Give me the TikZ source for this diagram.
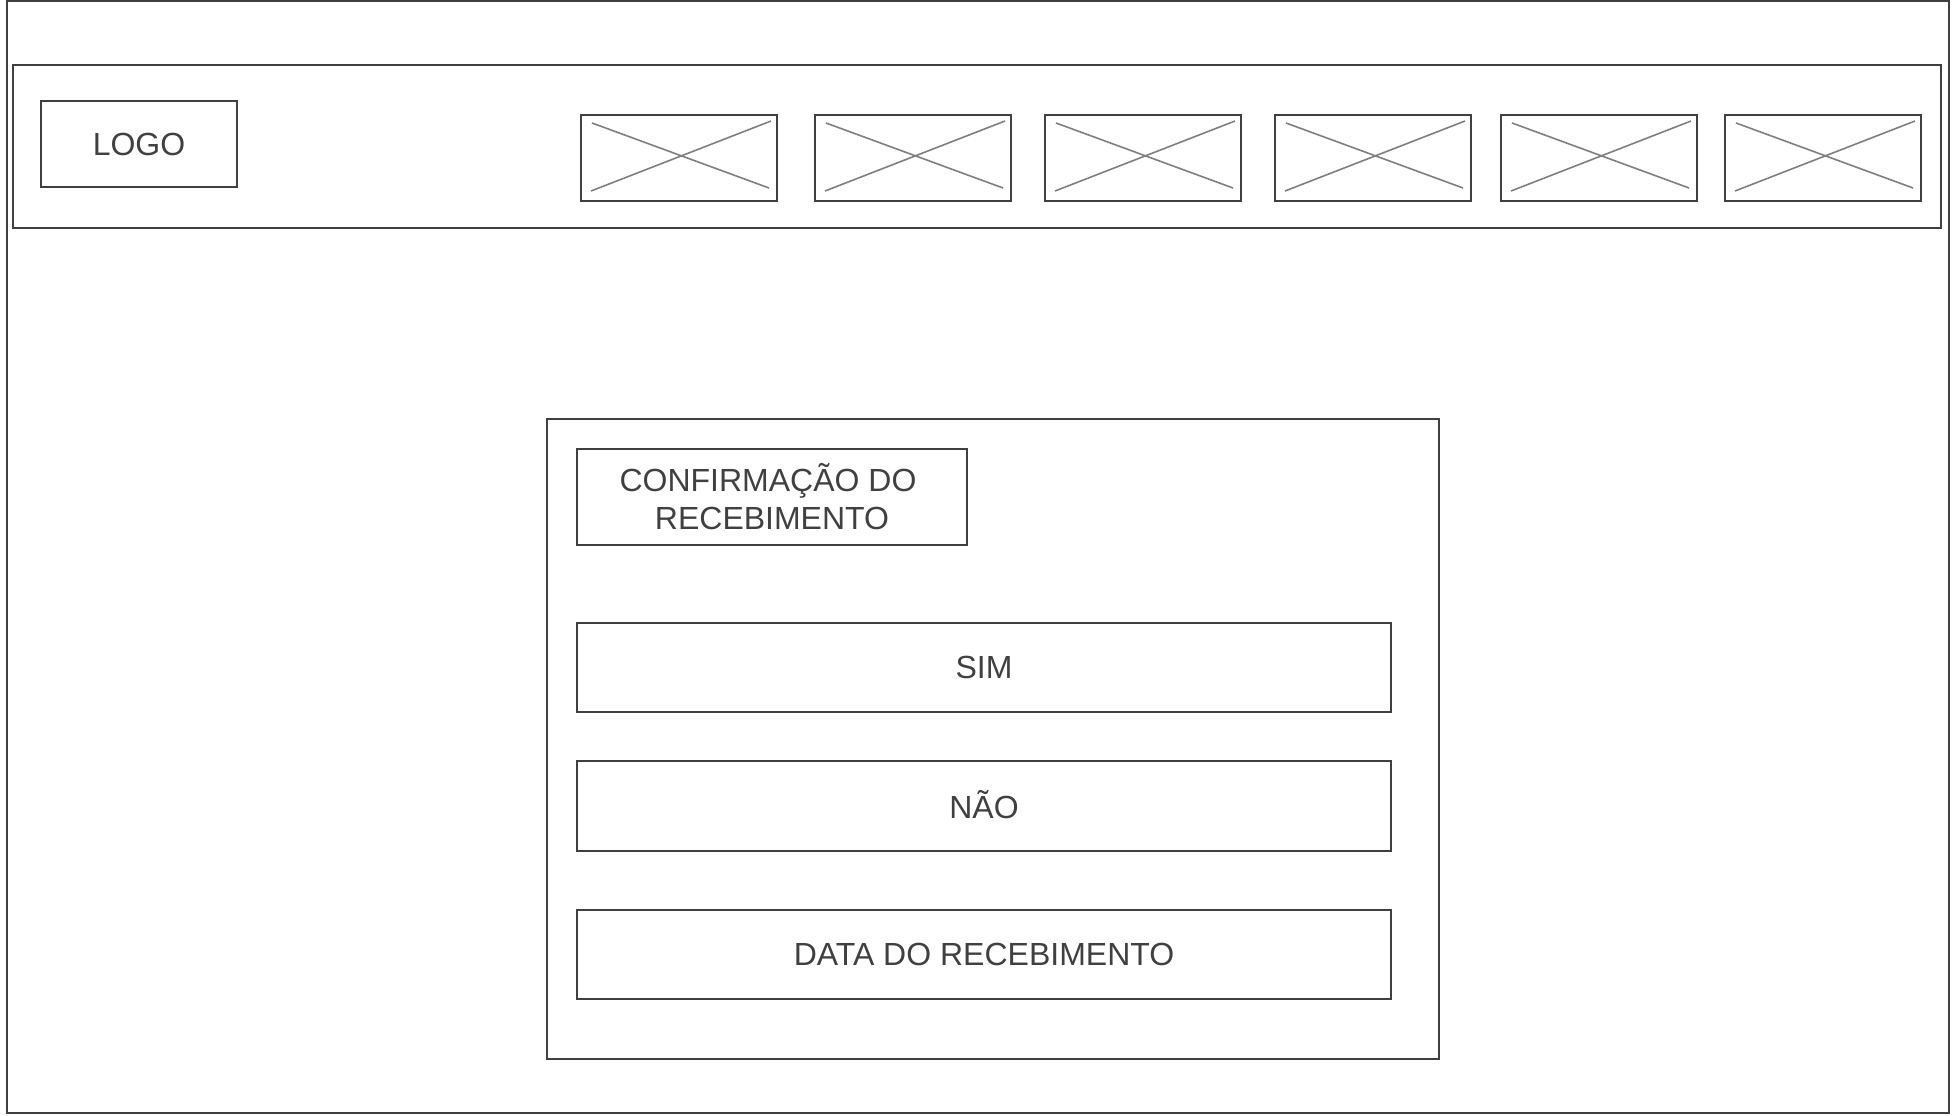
\documentclass[tikz,border=0pt]{standalone}
\usepackage{fontspec}
\setmainfont{Liberation Sans}
\usetikzlibrary{calc}
\definecolor{edge}{HTML}{404040}
\definecolor{crossc}{HTML}{7F7F7F}
\definecolor{txt}{HTML}{404040}
\begin{document}
\begin{tikzpicture}[x=1pt,y=1pt,
  frame/.style={draw=edge, line width=2pt, fill=none, inner sep=0pt, text=txt,
    font=\fontsize{32}{38}\selectfont, align=center},
  crossline/.style={draw=crossc, line width=1.6pt}]
\useasboundingbox (0,0) rectangle (1954,-1116);
\node[frame, minimum width=1942.5, minimum height=1111] (outer) at (977.75,-557) {};
\node[frame, minimum width=1928, minimum height=163] (header) at (977,-146.5) {};
\node[frame, minimum width=196, minimum height=86] (logo) at (139,-144) {LOGO};
\foreach \i/\cx in {1/679,2/913,3/1143,4/1373,5/1599,6/1823}{
  \node[frame, minimum width=196, minimum height=86] (ph\i) at (\cx,-158) {};
  \draw[crossline] ($(ph\i.north west)+(12,-9)$) -- ($(ph\i.north west)+(189,-74)$);
  \draw[crossline] ($(ph\i.north west)+(11,-77)$) -- ($(ph\i.north west)+(191,-7)$);
}
\node[frame, minimum width=892, minimum height=640] (panel) at (993,-739) {};
\node[frame, minimum width=390, minimum height=96] (confirm) at (772,-497) {CONFIRMAÇÃO DO\kern8pt\\RECEBIMENTO};
\node[frame, minimum width=814, minimum height=89] (sim) at (984,-667.5) {SIM};
\node[frame, minimum width=814, minimum height=90, text depth=3pt] (nao) at (984,-806) {NÃO};
\node[frame, minimum width=814, minimum height=89] (data) at (984,-954) {DATA DO RECEBIMENTO};
\end{tikzpicture}
\end{document}
